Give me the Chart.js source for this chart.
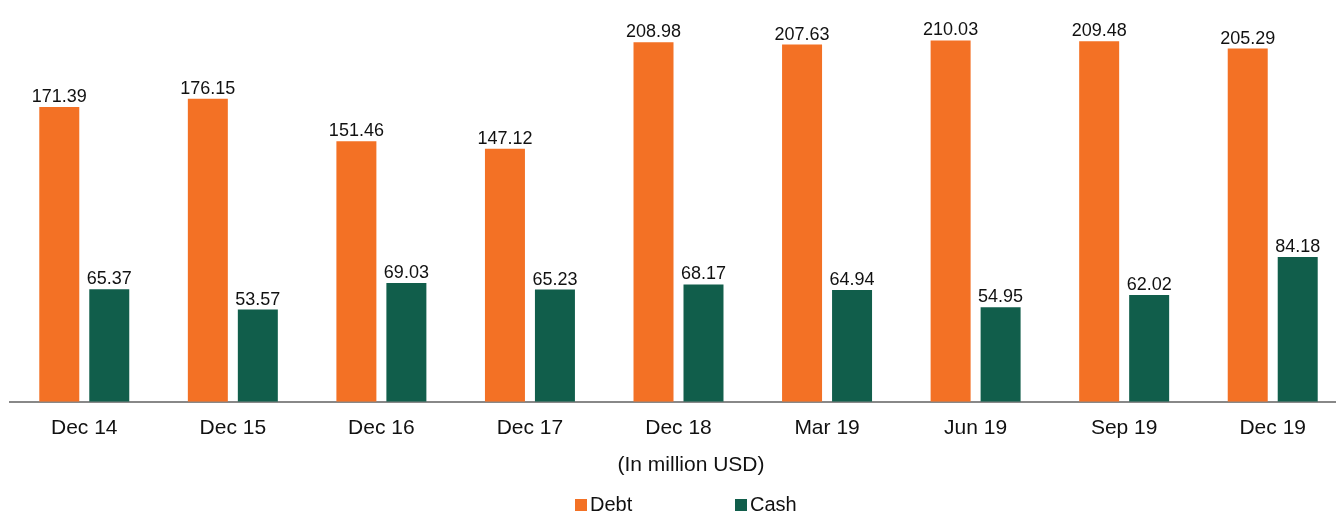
<!DOCTYPE html>
<html>
<head>
<meta charset="utf-8">
<script src="https://cdn.jsdelivr.net/npm/chart.js@4"></script>
<style>
  html, body { margin: 0; padding: 0; background: #fff; overflow: hidden; }
  #wrap { width: 1347px; height: 513px; position: relative; }
</style>
</head>
<body>
<div id="wrap"><canvas id="debtChart"></canvas></div>
<script>
const categories = ['Dec 14', 'Dec 15', 'Dec 16', 'Dec 17', 'Dec 18', 'Mar 19', 'Jun 19', 'Sep 19', 'Dec 19'];
const debtValues = [171.39, 176.15, 151.46, 147.12, 208.98, 207.63, 210.03, 209.48, 205.29];
const cashValues = [65.37, 53.57, 69.03, 65.23, 68.17, 64.94, 54.95, 62.02, 84.18];
const unitNote = '(In million USD)';

const FONT = '"Liberation Sans", Arial, sans-serif';

// value above each bar + the unit note and legend under the axis
const extras = {
  id: 'extras',
  afterDatasetsDraw(chart) {
    const ctx = chart.ctx;
    ctx.save();
    ctx.font = '18px ' + FONT;
    ctx.fillStyle = '#111';
    ctx.textAlign = 'center';
    ctx.textBaseline = 'alphabetic';
    chart.data.datasets.forEach((ds, i) => {
      chart.getDatasetMeta(i).data.forEach((bar, j) => {
        ctx.fillText(ds.data[j].toFixed(2), bar.x, bar.y - 5);
      });
    });

    ctx.font = '21px ' + FONT;
    ctx.textBaseline = 'middle';
    ctx.fillText(unitNote, 691, 465);

    // legend
    const legendX = [575, 735];
    ctx.textAlign = 'left';
    ctx.font = '20px ' + FONT;
    chart.data.datasets.forEach((ds, i) => {
      ctx.fillStyle = ds.backgroundColor;
      ctx.fillRect(legendX[i], 499, 12, 12);
      ctx.fillStyle = '#111';
      ctx.fillText(ds.label, legendX[i] + 15, 505);
    });
    ctx.restore();
  }
};

const ctx = document.getElementById('debtChart').getContext('2d');
new Chart(ctx, {
  type: 'bar',
  data: {
    labels: categories,
    datasets: [{
      label: 'Debt',
      data: debtValues,
      backgroundColor: '#F37125',
      categoryPercentage: 0.673,
      barPercentage: 0.8
    }, {
      label: 'Cash',
      data: cashValues,
      backgroundColor: '#115E4B',
      categoryPercentage: 0.673,
      barPercentage: 0.8
    }]
  },
  options: {
    responsive: true,
    maintainAspectRatio: false,
    animation: false,
    layout: { padding: { left: 10, right: 0, top: 0, bottom: 66 } },
    scales: {
      x: {
        grid: { display: false },
        border: { display: true, color: '#888', width: 2 },
        ticks: {
          color: '#111',
          padding: 6,
          font: { family: FONT, size: 21 }
        }
      },
      y: {
        display: false,
        min: 0,
        max: 233.5
      }
    },
    plugins: {
      legend: { display: false },
      tooltip: { enabled: false }
    }
  },
  plugins: [extras]
});
</script>
</body>
</html>
